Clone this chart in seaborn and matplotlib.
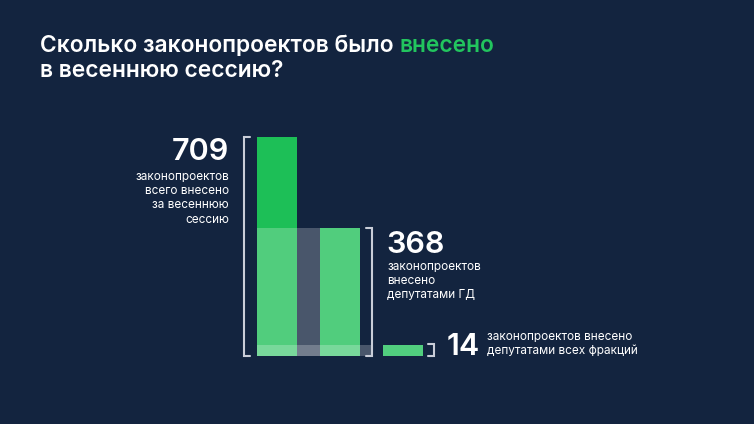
import matplotlib
matplotlib.use("Agg")
import matplotlib.pyplot as plt
import seaborn as sns
import pandas as pd
from matplotlib.patches import Rectangle

# ---- data ----
categories = ["всего", "депутатами ГД", "всех фракций"]
values = [709, 368, 14]              # labelled values
drawn_heights = [709, 414, 36]       # bar heights as drawn in the picture
label_709 = ["законопроектов", "всего внесено", "за весеннюю", "сессию"]
label_368 = ["законопроектов", "внесено", "депутатами ГД"]
label_14 = ["законопроектов внесено", "депутатами всех фракций"]
title_white = "Сколько законопроектов было "
title_green = "внесено"
title_line2 = "в весеннюю сессию?"

BG = "#13243f"
GREEN = "#1dbf57"
LIGHT = "#51ce7e"
BRACKET = "#c9cdd8"
FONT = ["Inter", "DejaVu Sans"]

sns.set_theme(style="white")
plt.rcParams["font.family"] = FONT

W, H = 754, 424
fig = plt.figure(figsize=(W / 100, H / 100), dpi=100, facecolor=BG)
ax = fig.add_axes([0, 0, 1, 1])
ax.set_facecolor(BG)

df = pd.DataFrame({"cat": categories, "h": drawn_heights})
sns.barplot(data=df, x="cat", y="h", hue="cat", palette=[GREEN, GREEN, LIGHT],
            width=0.635, legend=False, ax=ax, saturation=1, linewidth=0)

# map pixel geometry: category 0 centre at px 277, spacing 63 px; baseline at row 356, 709 at row 137
upx = 1 / 63
upy = 709 / (356 - 137)
ax.set_xlim(-277 * upx, (W - 277) * upx)
ax.set_ylim(-(H - 356) * upy, 356 * upy)
ax.axis("off")

bars = ax.patches[:3]
left = bars[0].get_x()
r368 = bars[1].get_x() + bars[1].get_width()
# translucent overlays
ax.add_patch(Rectangle((left, 0), r368 - left, drawn_heights[1], facecolor="white",
                       alpha=0.23, linewidth=0, zorder=3))
b14_right = 1.51
ax.add_patch(Rectangle((left, 0), b14_right - left, drawn_heights[2], facecolor="white",
                       alpha=0.23, linewidth=0, zorder=3))


def bracket(x, y0, y1, direction):
    t = 0.1 * direction
    ax.plot([x + t, x, x, x + t], [y1, y1, y0, y0], color=BRACKET, lw=1.5,
            solid_joinstyle="miter", zorder=4, clip_on=False)


bracket(-0.53, -1, drawn_heights[0], 1)
bracket(1.515, -1, drawn_heights[1], -1)
bracket(2.49, -1, drawn_heights[2] + 3, -1)


def fx(px):
    return px / W


def fy(py):
    return 1 - py / H


TS = 16.4
# title
t1 = fig.text(fx(40), fy(52), title_white, color="white", fontsize=TS,
              fontweight="semibold", va="baseline", ha="left")
fig.canvas.draw()
ext = t1.get_window_extent(fig.canvas.get_renderer())
fig.text(ext.x1 / W, fy(52), title_green, color="#22c55e", fontsize=TS,
         fontweight="semibold", va="baseline", ha="left")
fig.text(fx(40), fy(77), title_line2, color="white", fontsize=TS,
         fontweight="semibold", va="baseline", ha="left")

LS = 8.5
# 709
fig.text(fx(229), fy(160), str(values[0]), color="white", fontsize=22,
         fontweight="semibold", ha="right", va="baseline")
for i, s in enumerate(label_709):
    fig.text(fx(229), fy(177 + 14.2 * i), s, color="white", fontsize=LS,
             ha="right", va="center")

# 368
fig.text(fx(386), fy(253), str(values[1]), color="white", fontsize=22,
         fontweight="semibold", ha="left", va="baseline")
for i, s in enumerate(label_368):
    fig.text(fx(387), fy(267 + 14.2 * i), s, color="white", fontsize=LS,
             ha="left", va="center")

# 14
fig.text(fx(447), fy(355), str(values[2]), color="white", fontsize=22,
         fontweight="semibold", ha="left", va="baseline")
for i, s in enumerate(label_14):
    fig.text(fx(487), fy(337 + 14.5 * i), s, color="white", fontsize=LS,
             ha="left", va="center")

fig.savefig("out.png", dpi=100, facecolor=BG)
